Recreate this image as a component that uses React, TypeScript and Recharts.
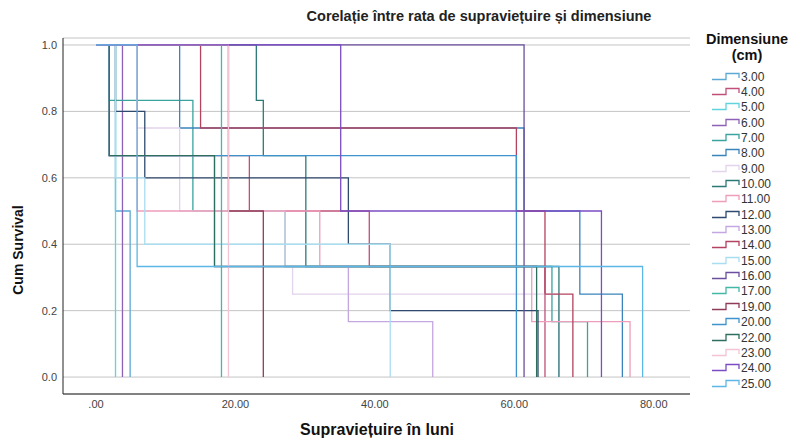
import React from 'react'
import { LineChart, Line, XAxis, YAxis, CartesianGrid } from 'recharts'

// Kaplan-Meier style survival curves, one per tumour size group (cm).
const LABELS = [
  '3.00', '4.00', '5.00', '6.00', '7.00', '8.00', '9.00', '10.00', '11.00', '12.00', '13.00',
  '14.00', '15.00', '16.00', '17.00', '19.00', '20.00', '22.00', '23.00', '24.00', '25.00',
]

// event times (months) per group
const TIMES: number[][] = [
  [0, 2.8, 4.9],
  [0, 1.9, 22, 39.2, 64.4],
  [0, 2.8],
  [0, 3.8],
  [0, 1.9, 13.9, 27.1, 65.4, 70.5],
  [0, 12, 61.4, 69.4, 75.5],
  [0, 5.9, 12, 27.1, 28.2, 66.4],
  [0, 23, 24, 30.1, 66.4],
  [0, 5.9, 32.1, 62.5, 76.6],
  [0, 2.8, 7, 36.2, 42.2, 63.4],
  [0, 1.9, 17, 36.2, 48.3],
  [0, 15, 60.3, 64.4, 68.4],
  [0, 2.8, 7, 42.2],
  [0, 61.4],
  [0, 18],
  [0, 19, 24],
  [0, 1.9, 60.3],
  [0, 1.9, 17, 63.2],
  [0, 19],
  [0, 35.1, 72.5],
  [0, 5.9, 78.4],
]

// cumulative survival after each time
const SURV: number[][] = [
  [1, 0.5, 0],
  [1, 0.667, 0.5, 0.333, 0],
  [1, 0],
  [1, 0],
  [1, 0.833, 0.5, 0.333, 0.167, 0],
  [1, 0.75, 0.5, 0.25, 0],
  [1, 0.75, 0.5, 0.333, 0.25, 0],
  [1, 0.833, 0.667, 0.333, 0],
  [1, 0.5, 0.333, 0.167, 0],
  [1, 0.8, 0.6, 0.4, 0.2, 0],
  [1, 0.667, 0.333, 0.167, 0],
  [1, 0.75, 0.5, 0.25, 0],
  [1, 0.6, 0.4, 0],
  [1, 0],
  [1, 0],
  [1, 0.5, 0],
  [1, 0.667, 0],
  [1, 0.667, 0.333, 0],
  [1, 0],
  [1, 0.5, 0],
  [1, 0.333, 0],
]

const X_TICKS = [0, 20, 40, 60, 80]
const Y_TICKS = [0, 0.2, 0.4, 0.6, 0.8, 1]

const COLORS = [
  '#5ba8d3', '#c0507a', '#62d2dc', '#8c62b8', '#3aa39e', '#3a84bc', '#e2d4ec',
  '#2c7a78', '#ee9dbb', '#2f4a6e', '#c4a6e0', '#b3435f', '#a9ddf0', '#6b4f9e',
  '#44b7a6', '#8e3c57', '#3f93cc', '#2d6e5e', '#f2c4d4', '#7b4cc4', '#5db7e6',
]

const FONT = 'Arial, "Liberation Sans", sans-serif'

const LegendBox = () => (
  <div style={{ position: 'absolute', left: 690, top: 31, width: 108, fontFamily: FONT, color: '#333' }}>
    <div style={{ textAlign: 'center', fontWeight: 'bold', fontSize: 14.5, lineHeight: '16px', color: '#111', paddingLeft: 6 }}>
      Dimensiune
      <br />
      (cm)
    </div>
    <div style={{ marginTop: 6 }}>
      {LABELS.map((l, i) => (
        <div key={l} style={{ display: 'flex', alignItems: 'center', height: 15.35, paddingLeft: 22 }}>
          <svg width={29} height={10} style={{ marginRight: 0 }}>
            <path d="M0,7.5 H14 V1.5 H27 V6" fill="none" stroke={COLORS[i]} strokeWidth={1.3} />
          </svg>
          <span style={{ fontSize: 12 }}>{l}</span>
        </div>
      ))}
    </div>
  </div>
)

export default function App() {
  return (
    <div style={{ position: 'absolute', left: 0, top: 0, width: 798, height: 439, background: '#fff' }}>
      <div
        style={{
          position: 'absolute', left: 279, top: 8, width: 400, textAlign: 'center',
          fontFamily: FONT, fontWeight: 'bold', fontSize: 14.5, color: '#222',
        }}
      >
        Corelație între rata de supraviețuire și dimensiune
      </div>
      <div
        style={{
          position: 'absolute', left: 227, top: 421, width: 300, textAlign: 'center',
          fontFamily: FONT, fontWeight: 'bold', fontSize: 16, color: '#111',
        }}
      >
        Supraviețuire în luni
      </div>
      <div
        style={{
          position: 'absolute', left: 18, top: 250, transform: 'translate(-50%, -50%) rotate(-90deg)',
          fontFamily: FONT, fontWeight: 'bold', fontSize: 14, color: '#111', whiteSpace: 'nowrap',
        }}
      >
        Cum Survival
      </div>
      <LegendBox />
      <LineChart width={798} height={439} margin={{ top: 38, right: 108, left: 0, bottom: 0 }}>
        <CartesianGrid vertical={false} stroke="#c4c4c4" />
        <XAxis
          dataKey="t"
          type="number"
          domain={[-4.73, 85.2]}
          allowDataOverflow
          ticks={X_TICKS}
          tickFormatter={(v) => (v === 0 ? '.00' : v.toFixed(2))}
          tickLine={false}
          tickSize={0}
          axisLine={{ stroke: '#222' }}
          tick={{ fill: '#444', fontSize: 11, fontFamily: FONT }}
          tickMargin={6}
          height={45}
        />
        <YAxis
          type="number"
          domain={[-0.051, 1.021]}
          allowDataOverflow
          ticks={Y_TICKS}
          tickFormatter={(v) => v.toFixed(1)}
          tickLine={false}
          tickSize={0}
          axisLine={{ stroke: '#222' }}
          tick={{ fill: '#444', fontSize: 11, fontFamily: FONT }}
          tickMargin={6}
          width={63}
        />
        {LABELS.map((l, i) => (
          <Line
            key={l}
            name={l}
            type="stepAfter"
            data={TIMES[i].map((t, j) => ({ t, s: SURV[i][j] }))}
            dataKey="s"
            stroke={COLORS[i]}
            strokeWidth={1.3}
            dot={false}
            activeDot={false}
            isAnimationActive={false}
          />
        ))}
      </LineChart>
    </div>
  )
}
